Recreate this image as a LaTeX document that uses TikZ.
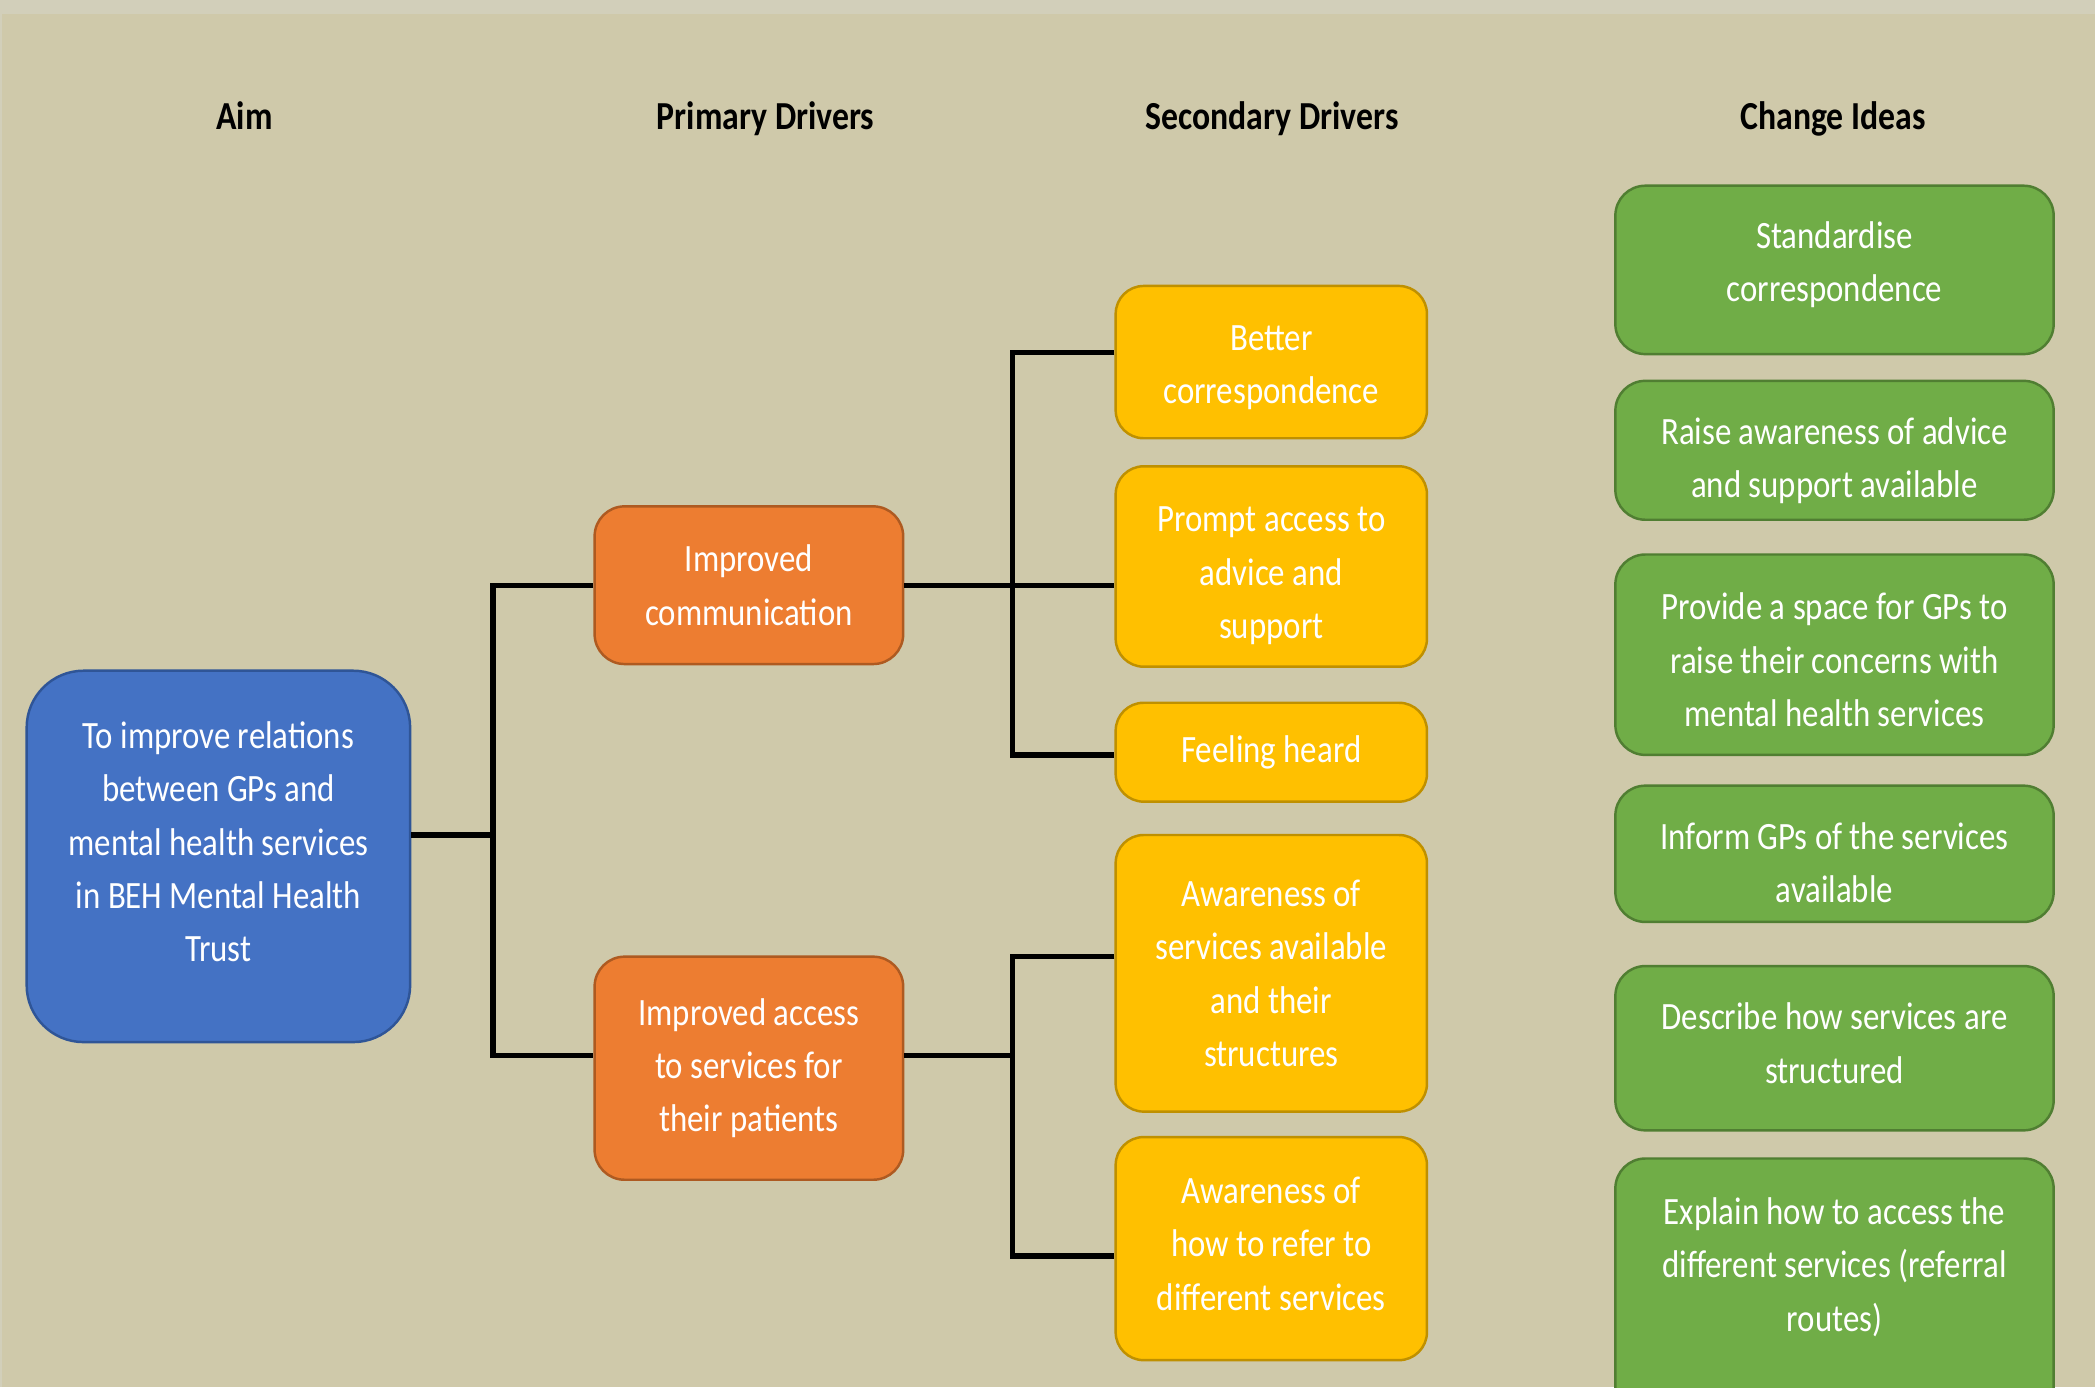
\documentclass[tikz,border=0pt]{standalone}
\usepackage{fontspec}
\setmainfont[FakeStretch=0.85]{Carlito}
\definecolor{bgkhaki}{RGB}{207,201,170}
\definecolor{bgstrip}{RGB}{210,207,186}
\definecolor{aimblue}{RGB}{68,114,196}
\definecolor{aimline}{RGB}{47,85,151}
\definecolor{drvorange}{RGB}{237,125,49}
\definecolor{drvorangeline}{RGB}{174,90,33}
\definecolor{drvyellow}{RGB}{255,192,0}
\definecolor{drvyellowline}{RGB}{191,144,0}
\definecolor{ideagreen}{RGB}{112,173,71}
\definecolor{ideagreenline}{RGB}{80,126,50}
\newcommand{\lowerby}[1]{\rule{0pt}{#1}}
\begin{document}
\begin{tikzpicture}[
        box/.style={rectangle, draw, line width=0.7pt, text=white, align=center, inner sep=0pt,
            font=\fontsize{11}{15.2}\selectfont},
        aimbox/.style={box, fill=aimblue, draw=aimline, minimum width=3.835cm, rounded corners=0.57cm},
        primary/.style={box, fill=drvorange, draw=drvorangeline, minimum width=3.086cm, rounded corners=0.3cm},
        secondary/.style={box, fill=drvyellow, draw=drvyellowline, minimum width=3.113cm, rounded corners=0.28cm},
        idea/.style={box, fill=ideagreen, draw=ideagreenline, minimum width=4.383cm, rounded corners=0.3cm},
        header/.style={anchor=base, font=\fontsize{11.3}{14}\selectfont\bfseries},
        link/.style={line width=1.5pt}
    ]
    \fill[bgkhaki] (0,0) rectangle (20.95,13.87);
    \useasboundingbox (0,0) rectangle (20.95,13.87);
    \clip (0,0) rectangle (20.95,13.87);
    \fill[bgstrip] (0,13.73) rectangle (20.95,13.87);
    \fill[bgstrip] (0,0) rectangle (0.02,13.87);

    \node[header] (haim) at (2.445,12.57) {Aim};
    \node[header] (hprimary) at (7.656,12.57) {Primary Drivers};
    \node[header] (hsecondary) at (12.72,12.57) {Secondary Drivers};
    \node[header] (hchange) at (18.331,12.57) {Change Ideas};

    \node[aimbox, minimum height=3.714cm, text depth=8.4pt] (aim) at (2.184,5.306)
        {To improve relations\\between GPs and\\mental health services\\in BEH Mental Health\\Trust};

    \node[primary, minimum height=1.577cm] (pd1) at (7.489,8.018) {Improved\\communication};
    \node[primary, minimum height=2.231cm] (pd2) at (7.489,3.188) {Improved access\\to services for\\their patients};

    \node[secondary, minimum height=1.523cm] (sd1) at (12.713,10.249) {\lowerby{10.1pt}Better\\correspondence};
    \node[secondary, minimum height=2.004cm] (sd2) at (12.713,8.205) {\lowerby{12.4pt}Prompt access to\\advice and\\support};
    \node[secondary, minimum height=0.989cm] (sd3) at (12.713,6.348) {Feeling heard};
    \node[secondary, minimum height=2.766cm] (sd4) at (12.713,4.137) {Awareness of\\services available\\and their\\structures};
    \node[secondary, minimum height=2.231cm, text depth=3pt] (sd5) at (12.713,1.384) {Awareness of\\how to refer to\\different services};

    \node[idea, minimum height=1.684cm, text depth=4.6pt] (ci1) at (18.345,11.171) {Standardise\\correspondence};
    \node[idea, minimum height=1.389cm] (ci2) at (18.345,9.367) {\lowerby{13.5pt}Raise awareness of advice\\and support available};
    \node[idea, minimum height=2.004cm] (ci3) at (18.345,7.323) {\lowerby{10.5pt}Provide a space for GPs to\\raise their concerns with\\mental health services};
    \node[idea, minimum height=1.363cm] (ci4) at (18.345,5.332) {\lowerby{12.8pt}Inform GPs of the services\\available};
    \node[idea, minimum height=1.643cm, text depth=3pt] (ci5) at (18.345,3.388) {Describe how services are\\structured};
    \node[idea, minimum height=2.57cm, text depth=13pt] (ci6) at (18.345,1.0) {Explain how to access the\\different services (referral\\routes)};

    \coordinate (j0) at (4.930,5.519);
    \coordinate (t0) at (4.930,8.018);
    \coordinate (b0) at (4.930,3.315);
    \coordinate (t1) at (10.128,10.343);
    \coordinate (b1) at (10.128,6.321);
    \coordinate (t2) at (10.128,4.304);
    \coordinate (b2) at (10.128,1.311);

    \draw[link] (aim.east |- j0) -- (j0);
    \draw[link] (pd1.west) -- (t0) -- (b0) -- (pd2.west |- b0);
    \draw[link] (pd1.east) -- (sd2.west |- pd1.east);
    \draw[link] (sd1.west |- t1) -- (t1) -- (b1) -- (sd3.west |- b1);
    \draw[link] (pd2.east |- b0) -- (b0 -| t2);
    \draw[link] (sd4.west |- t2) -- (t2) -- (b2) -- (sd5.west |- b2);
\end{tikzpicture}
\end{document}
